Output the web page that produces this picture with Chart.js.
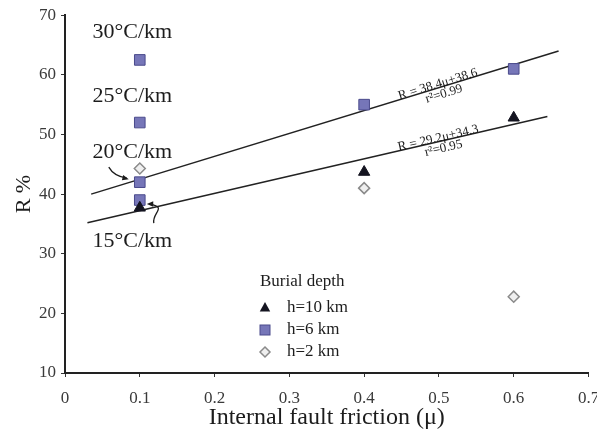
<!DOCTYPE html>
<html>
<head>
<meta charset="utf-8">
<script src="https://cdn.jsdelivr.net/npm/chart.js@4.4.0/dist/chart.umd.min.js"></script>
<style>
  html, body { margin: 0; padding: 0; background: #fff; }
</style>
</head>
<body>
<canvas id="myChart" width="597" height="437"></canvas>
<script>
// data
const xTicks = [0, 0.1, 0.2, 0.3, 0.4, 0.5, 0.6, 0.7];
const yTicks = [10, 20, 30, 40, 50, 60, 70];

const mu10 = [0.1, 0.4, 0.6];
const r10 = [37.7, 43.7, 52.8];
const mu6 = [0.1, 0.1, 0.1, 0.1, 0.4, 0.6];
const r6 = [62.5, 52, 42, 39, 55, 61];
const mu2 = [0.1, 0.4, 0.6];
const r2 = [44.3, 41, 22.8];

const fitUpperMu = [0.035, 0.66];
const fitUpperR = [40, 64];
const fitLowerMu = [0.03, 0.645];
const fitLowerR = [35.2, 53];
const fitText = [['R = 38.4\u03bc+38.6', 'r\u00b2=0.99'], ['R = 29.2\u03bc+34.3', 'r\u00b2=0.95']];

const gradLabels = ['30\u00b0C/km', '25\u00b0C/km', '20\u00b0C/km', '15\u00b0C/km'];
const gradLabelR = [67.1, 56.4, 47, 32.1];

const SERIF = '"Liberation Serif", "DejaVu Serif", serif';
const sqFill = '#7676b8', sqLine = '#4b4b8c';
const triFill = '#141420';
const diaFill = '#efefef', diaLine = '#8a8a8a';

const pts = (xs, ys) => xs.map((v, i) => ({ x: v, y: ys[i] }));

// small drawing helpers for the legend
function tri(ctx, cx, cy, r) {
    ctx.beginPath();
    ctx.moveTo(cx, cy - r);
    ctx.lineTo(cx + r * 0.87, cy + r * 0.6);
    ctx.lineTo(cx - r * 0.87, cy + r * 0.6);
    ctx.closePath();
    ctx.fillStyle = triFill; ctx.fill();
}
function sq(ctx, cx, cy, s) {
    ctx.fillStyle = sqFill; ctx.strokeStyle = sqLine; ctx.lineWidth = 1;
    ctx.fillRect(cx - s / 2, cy - s / 2, s, s);
    ctx.strokeRect(cx - s / 2, cy - s / 2, s, s);
}
function dia(ctx, cx, cy, r) {
    ctx.beginPath();
    ctx.moveTo(cx, cy - r); ctx.lineTo(cx + r, cy); ctx.lineTo(cx, cy + r); ctx.lineTo(cx - r, cy);
    ctx.closePath();
    ctx.fillStyle = diaFill; ctx.fill();
    ctx.strokeStyle = diaLine; ctx.lineWidth = 1.5; ctx.stroke();
}
function arrowHead(ctx, tx, ty, ang) {
    ctx.beginPath();
    ctx.moveTo(tx, ty);
    ctx.lineTo(tx - 7 * Math.cos(ang - 0.4), ty - 7 * Math.sin(ang - 0.4));
    ctx.lineTo(tx - 7 * Math.cos(ang + 0.4), ty - 7 * Math.sin(ang + 0.4));
    ctx.closePath();
    ctx.fill();
}

const notes = {
    id: 'notes',
    afterDatasetsDraw(chart) {
        const { ctx, scales: { x, y } } = chart;
        ctx.save();
        ctx.fillStyle = '#1c1c1c';
        ctx.strokeStyle = '#1c1c1c';

        // thermal gradient labels
        ctx.font = '22px ' + SERIF;
        ctx.textAlign = 'center';
        ctx.textBaseline = 'middle';
        gradLabels.forEach((t, i) => ctx.fillText(t, x.getPixelForValue(0.09), y.getPixelForValue(gradLabelR[i])));

        // arrow to 20 C/km square
        const p20x = x.getPixelForValue(0.1), p20y = y.getPixelForValue(42);
        ctx.lineWidth = 1.3;
        ctx.beginPath();
        ctx.moveTo(p20x - 31, p20y - 15);
        ctx.quadraticCurveTo(p20x - 26, p20y - 6, p20x - 13, p20y - 4);
        ctx.stroke();
        arrowHead(ctx, p20x - 11, p20y - 3, 0.25);

        // hook arrow to 15 C/km points
        const p15x = x.getPixelForValue(0.1), p15y = y.getPixelForValue(38.5);
        ctx.beginPath();
        ctx.moveTo(p15x + 14, p15y + 20);
        ctx.bezierCurveTo(p15x + 12, p15y + 10, p15x + 28, p15y + 4, p15x + 10, p15y + 1);
        ctx.stroke();
        arrowHead(ctx, p15x + 7, p15y + 1, Math.PI);

        // regression equations along the lines
        ctx.font = '13px ' + SERIF;
        [[fitUpperMu, fitUpperR], [fitLowerMu, fitLowerR]].forEach(([m, r], i) => {
            const x0 = x.getPixelForValue(m[0]), y0 = y.getPixelForValue(r[0]);
            const x1 = x.getPixelForValue(m[1]), y1 = y.getPixelForValue(r[1]);
            const ang = Math.atan2(y1 - y0, x1 - x0);
            const cx = x.getPixelForValue(0.5);
            const cy = y0 + (y1 - y0) * (cx - x0) / (x1 - x0);
            ctx.save();
            ctx.translate(cx, cy);
            ctx.rotate(ang);
            ctx.textBaseline = 'alphabetic';
            ctx.fillText(fitText[i][0], 0, 0);
            ctx.textBaseline = 'top';
            ctx.fillText(fitText[i][1], 3, 1);
            ctx.restore();
        });

        // legend
        ctx.textAlign = 'left';
        ctx.textBaseline = 'middle';
        ctx.fillStyle = '#1c1c1c';
        ctx.font = '17px ' + SERIF;
        ctx.fillText('Burial depth', 260, 282);
        const rows = [308, 330, 352];
        chart.data.datasets.slice(0, 3).forEach((ds, i) => {
            if (i === 0) tri(ctx, 265, rows[i], 6);
            if (i === 1) sq(ctx, 265, rows[i], 10);
            if (i === 2) dia(ctx, 265, rows[i], 5);
            ctx.fillStyle = '#1c1c1c';
            ctx.fillText(ds.label, 287, rows[i]);
        });
        ctx.restore();
    }
};

const ctx = document.getElementById('myChart').getContext('2d');
const myChart = new Chart(ctx, {
    type: 'scatter',
    data: {
        datasets: [{
            label: 'h=10 km',
            data: pts(mu10, r10),
            pointStyle: 'triangle',
            pointRadius: 6.5,
            backgroundColor: triFill,
            borderColor: triFill,
            borderWidth: 1
        }, {
            label: 'h=6 km',
            data: pts(mu6, r6),
            pointStyle: 'rect',
            pointRadius: 7.5,
            backgroundColor: sqFill,
            borderColor: sqLine,
            borderWidth: 1
        }, {
            label: 'h=2 km',
            data: pts(mu2, r2),
            pointStyle: 'rectRot',
            pointRadius: 5.5,
            backgroundColor: diaFill,
            borderColor: diaLine,
            borderWidth: 1.5
        }, {
            type: 'line',
            label: 'fit 6 km',
            data: pts(fitUpperMu, fitUpperR),
            borderColor: '#222',
            borderWidth: 1.5,
            pointRadius: 0,
            fill: false
        }, {
            type: 'line',
            label: 'fit 10 km',
            data: pts(fitLowerMu, fitLowerR),
            borderColor: '#222',
            borderWidth: 1.5,
            pointRadius: 0,
            fill: false
        }]
    },
    options: {
        responsive: false,
        animation: false,
        devicePixelRatio: 1,
        layout: { padding: { top: 15, right: 7, left: 0, bottom: 0 } },
        plugins: {
            legend: { display: false },
            tooltip: { enabled: false }
        },
        scales: {
            x: {
                type: 'linear',
                min: 0,
                max: 0.7,
                afterBuildTicks: s => { s.ticks = xTicks.map(v => ({ value: v })); },
                afterFit: s => { s.height = 64; s.paddingRight = 0; },
                grid: { drawOnChartArea: false, drawTicks: true, tickLength: 4, color: '#333' },
                border: { color: '#222', width: 2 },
                ticks: {
                    padding: 11,
                    color: '#3a3a3a',
                    font: { family: SERIF, size: 17 },
                    callback: v => v === 0 ? '0' : v.toFixed(1)
                },
                title: {
                    display: true,
                    text: 'Internal fault friction (\u03bc)',
                    color: '#1c1c1c',
                    font: { family: SERIF, size: 24 },
                    padding: { top: 0, bottom: 5 }
                }
            },
            y: {
                min: 10,
                max: 70,
                afterBuildTicks: s => { s.ticks = yTicks.map(v => ({ value: v })); },
                afterFit: s => { s.width = 65; },
                grid: { drawOnChartArea: false, drawTicks: true, tickLength: 4, color: '#333' },
                border: { color: '#222', width: 2 },
                ticks: {
                    padding: 5,
                    color: '#3a3a3a',
                    font: { family: SERIF, size: 17 }
                },
                title: {
                    display: true,
                    text: 'R %',
                    color: '#1c1c1c',
                    font: { family: SERIF, size: 22 },
                    padding: { top: 11, bottom: 0 }
                }
            }
        }
    },
    plugins: [notes]
});
</script>
</body>
</html>
